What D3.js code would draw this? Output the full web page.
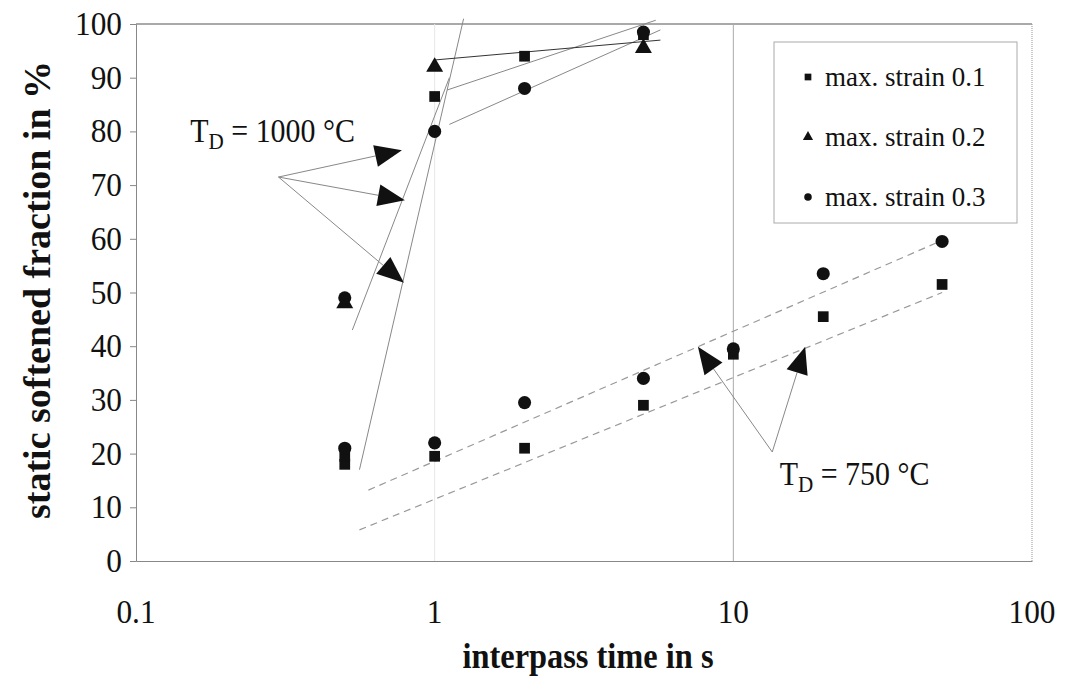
<!DOCTYPE html>
<html>
<head>
<meta charset="utf-8">
<script src="https://cdn.jsdelivr.net/npm/d3@7"></script>
<style>
  body { margin: 0; background: #fff; }
</style>
</head>
<body>
<div id="chart"></div>
<script>
// interpass times in s
const times1000 = [0.5, 1, 2, 5];
const times750 = [0.5, 1, 2, 5, 10, 20, 50];

// static softened fraction in %, T_D = 1000 °C
const soft1000Strain01 = [18, 86.5, 94, 98];
const soft1000Strain02 = [48, 92, null, 95.5];
const soft1000Strain03 = [49, 80, 88, 98.5];

// static softened fraction in %, T_D = 750 °C
const soft750Strain01 = [19.5, 19.5, 21, 29, 38.5, 45.5, 51.5];
const soft750Strain03 = [21, 22, 29.5, 34, 39.5, 53.5, 59.5];

// trend lines, [time, fraction] end points
const trends1000 = [
  [[0.56, 17], [1.25, 101]],
  [[0.53, 43], [1.12, 90]],
  [[1.1, 87.7], [5.5, 100.7]],
  [[1.12, 81.3], [5.7, 98.9]]
];
const trend1000Strain02 = [[1, 93.3], [5.7, 97]];
const trends750 = [
  [[0.6, 13.2], [50, 59.7]],
  [[0.56, 5.8], [50, 50]]
];

// annotation arrows, [time, fraction]
const arrows1000 = [
  [[0.3, 71.5], [0.777, 76.5]],
  [[0.3, 71.5], [0.795, 67.2]],
  [[0.3, 71.5], [0.789, 51.8]]
];
const arrows750 = [
  [[13.5, 20.3], [7.61, 39.9]],
  [[13.5, 20.3], [17.4, 39.9]]
];
const label1000 = [0.152, 78];
const label750 = [14.3, 14.2];

const xTicks = [0.1, 1, 10, 100];
const xTickLabels = ["0.1", "1", "10", "100"];
const yTicks = [0, 10, 20, 30, 40, 50, 60, 70, 80, 90, 100];
const legendLabels = ["max. strain 0.1", "max. strain 0.2", "max. strain 0.3"];
const legendShapes = ["square", "triangle", "circle"];

const width = 1067, height = 682;
const serif = "'Liberation Serif', 'Times New Roman', serif";

const svg = d3.select("#chart")
  .append("svg")
  .attr("width", width)
  .attr("height", height)
  .attr("font-family", serif);

const x = d3.scaleLog().domain([0.1, 100]).range([136, 1032]);
const y = d3.scaleLinear().domain([0, 100]).range([561, 24]);

// plot frame and grid
svg.append("line")
  .attr("x1", x(0.1)).attr("x2", x(100))
  .attr("y1", y(100)).attr("y2", y(100))
  .attr("stroke", "#555").attr("stroke-width", 1.2);
svg.append("line")
  .attr("x1", x(100)).attr("x2", x(100))
  .attr("y1", y(100)).attr("y2", y(0))
  .attr("stroke", "#999").attr("stroke-dasharray", "1,1");
svg.selectAll("line.vgrid")
  .data([1, 10])
  .join("line")
  .attr("class", "vgrid")
  .attr("x1", d => x(d)).attr("x2", d => x(d))
  .attr("y1", y(100)).attr("y2", y(0))
  .attr("stroke", d => d === 10 ? "#aaa" : "#e6e6e6");

// axes
const yAxis = svg.append("g")
  .attr("transform", `translate(${x(0.1)},0)`)
  .call(d3.axisLeft(y).tickValues(yTicks).tickSize(6).tickFormat(""));
yAxis.selectAll("line, path").attr("stroke", "#888");

const xAxis = svg.append("g")
  .attr("transform", `translate(0,${y(0)})`)
  .call(d3.axisBottom(x).tickValues(xTicks).tickSize(0).tickFormat(""));
xAxis.selectAll("line, path").attr("stroke", "#888");

// text squeezed sideways, like the scanned figure
function squeezed(parent, px, py, str, size, sx, anchor, weight) {
  const g = parent.append("g").attr("transform", `translate(${px},${py}) scale(${sx},1)`);
  return g.append("text")
    .attr("font-family", serif)
    .attr("fill", "#111")
    .attr("text-anchor", anchor)
    .attr("font-size", size)
    .attr("font-weight", weight || "normal")
    .text(str);
}

yTicks.forEach(t => squeezed(svg, x(0.1) - 14, y(t) + 11, t, 33, 0.95, "end"));
xTicks.forEach((t, i) => squeezed(svg, x(t), 623, xTickLabels[i], 33, 0.95, "middle"));

squeezed(svg, 588, 668, "interpass time in s", 36, 0.9, "middle", "bold");
svg.append("g")
  .attr("transform", "translate(50,290) rotate(-90)")
  .append("text")
  .attr("font-family", serif)
  .attr("fill", "#111")
  .attr("text-anchor", "middle")
  .attr("font-size", 38)
  .attr("font-weight", "bold")
  .text("static softened fraction in %");

// trend lines
const line = d3.line().x(d => x(d[0])).y(d => y(d[1]));
svg.selectAll("path.t1000")
  .data(trends1000)
  .join("path")
  .attr("class", "t1000")
  .attr("d", line)
  .attr("fill", "none")
  .attr("stroke", "#888")
  .attr("stroke-width", 1);
svg.append("path")
  .attr("d", line(trend1000Strain02))
  .attr("fill", "none")
  .attr("stroke", "#333")
  .attr("stroke-width", 1);
svg.selectAll("path.t750")
  .data(trends750)
  .join("path")
  .attr("class", "t750")
  .attr("d", line)
  .attr("fill", "none")
  .attr("stroke", "#999")
  .attr("stroke-width", 1.2)
  .attr("stroke-dasharray", "7,5");

// markers
const shapes = {
  square: d3.symbol().type(d3.symbolSquare),
  triangle: d3.symbol().type(d3.symbolTriangle),
  circle: d3.symbol().type(d3.symbolCircle)
};
function drawSeries(times, values, shape, size) {
  const pts = times.map((t, i) => [t, values[i]]).filter(d => d[1] !== null);
  svg.append("g").selectAll("path")
    .data(pts)
    .join("path")
    .attr("transform", d => `translate(${x(d[0])},${y(d[1])})`)
    .attr("d", shapes[shape].size(size)())
    .attr("fill", "#111");
}
drawSeries(times1000, soft1000Strain01, "square", 115);
drawSeries(times1000, soft1000Strain02, "triangle", 125);
drawSeries(times1000, soft1000Strain03, "circle", 135);
drawSeries(times750, soft750Strain01, "square", 115);
drawSeries(times750, soft750Strain03, "circle", 135);

// arrows
function drawArrow(a) {
  const x0 = x(a[0][0]), y0 = y(a[0][1]);
  const x1 = x(a[1][0]), y1 = y(a[1][1]);
  const ang = Math.atan2(y1 - y0, x1 - x0);
  const len = 27, half = 11;
  const bx = x1 - len * Math.cos(ang), by = y1 - len * Math.sin(ang);
  svg.append("line")
    .attr("x1", x0).attr("y1", y0).attr("x2", bx).attr("y2", by)
    .attr("stroke", "#888").attr("stroke-width", 1);
  const nx = -Math.sin(ang) * half, ny = Math.cos(ang) * half;
  svg.append("path")
    .attr("d", `M${x1},${y1}L${bx + nx},${by + ny}L${bx - nx},${by - ny}Z`)
    .attr("fill", "#111");
}
arrows1000.forEach(drawArrow);
arrows750.forEach(drawArrow);

function tdLabel(pos, value) {
  const t = squeezed(svg, x(pos[0]), y(pos[1]), "", 34, 0.88, "start");
  t.append("tspan").text("T");
  t.append("tspan").attr("font-size", 24).attr("dy", 7).text("D");
  t.append("tspan").attr("dy", -7).text(` = ${value} °C`);
}
tdLabel(label1000, 1000);
tdLabel(label750, 750);

// legend
const legend = svg.append("g").attr("transform", "translate(774,42)");
legend.append("rect")
  .attr("width", 243).attr("height", 181)
  .attr("fill", "#fff").attr("stroke", "#aaa");
legendLabels.forEach((lab, i) => {
  legend.append("path")
    .attr("transform", `translate(34,${35 + i * 60})`)
    .attr("d", shapes[legendShapes[i]].size(45)())
    .attr("fill", "#111");
  legend.append("text")
    .attr("font-family", serif)
    .attr("fill", "#111")
    .attr("x", 51).attr("y", 44 + i * 60)
    .attr("font-size", 27)
    .text(lab);
});
</script>
</body>
</html>
